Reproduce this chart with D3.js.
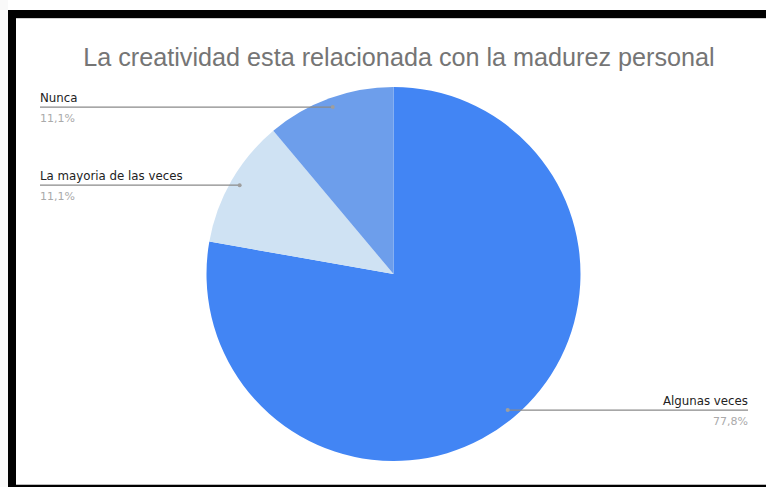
<!DOCTYPE html>
<html>
<head>
<meta charset="utf-8">
<script src="https://cdn.jsdelivr.net/npm/d3@7"></script>
<style>
  body { margin: 0; background: #fff; }
  svg { display: block; font-family: "Liberation Sans", Arial, sans-serif; }
</style>
</head>
<body>
<svg width="766" height="487"></svg>
<script>
// Chart data
const title = "La creatividad esta relacionada con la madurez personal";
const categories = ["Algunas veces", "La mayoria de las veces", "Nunca"];
const values = [7, 1, 1];
const sliceColors = ["#4285f4", "#cfe2f3", "#6d9eeb"];

const svg = d3.select("svg");
const width = 766, height = 487;

// Frame around the screenshot
svg.append("rect").attr("x", 0).attr("y", 0).attr("width", 8).attr("height", height).attr("fill", "#f9f9f9");
svg.append("rect").attr("x", 8).attr("y", 10).attr("width", width - 8).attr("height", 8).attr("fill", "#000");
svg.append("rect").attr("x", 16).attr("y", 18).attr("width", width - 16).attr("height", 1).attr("fill", "#d0d0d0");
svg.append("rect").attr("x", 8).attr("y", 10).attr("width", 8).attr("height", height - 10).attr("fill", "#000");
svg.append("rect").attr("x", 16).attr("y", 484).attr("width", width - 16).attr("height", 1).attr("fill", "#bbb");
svg.append("rect").attr("x", 16).attr("y", 485).attr("width", width - 16).attr("height", 2).attr("fill", "#000");

// Title
svg.append("text")
  .attr("x", 399)
  .attr("y", 66)
  .attr("text-anchor", "middle")
  .style("font-size", "25.2px")
  .style("fill", "#757575")
  .text(title);

const cx = 393.5, cy = 274, r = 187;
const total = d3.sum(values);
const locale = d3.formatLocale({ decimal: ",", thousands: ".", grouping: [3], currency: ["", "€"] });
const pct = locale.format(".1%");

const color = d3.scaleOrdinal().domain(categories).range(sliceColors);

const pie = d3.pie().sort(null).value((d, i) => values[i]);
const arcs = pie(categories);

const arc = d3.arc().innerRadius(0).outerRadius(r);
const anchorArc = d3.arc().innerRadius(r * 0.95).outerRadius(r * 0.95);

const g = svg.append("g").attr("transform", `translate(${cx},${cy})`);

g.selectAll("path.slice")
  .data(arcs)
  .enter()
  .append("path")
  .attr("class", "slice")
  .attr("d", arc)
  .attr("fill", (d) => color(d.data));

// Leader lines and labels
const leftX = 40, rightX = 748;
arcs.forEach((d, i) => {
  const [ax, ay] = anchorArc.centroid(d);
  const px = cx + ax, py = cy + ay;
  const isRight = px > cx;
  const endX = isRight ? rightX : leftX;

  svg.append("line")
    .attr("x1", px).attr("y1", py)
    .attr("x2", endX).attr("y2", py)
    .attr("stroke", "#8a8a8a")
    .attr("stroke-width", 1.2);

  svg.append("circle")
    .attr("cx", px).attr("cy", py)
    .attr("r", 2)
    .attr("fill", "#9e9e9e");

  svg.append("text")
    .attr("x", endX)
    .attr("y", py - 5)
    .attr("text-anchor", isRight ? "end" : "start")
    .style("font-family", "'DejaVu Sans', sans-serif")
    .style("font-size", "11.8px")
    .style("fill", "#222")
    .text(d.data);

  svg.append("text")
    .attr("x", endX)
    .attr("y", py + 15)
    .attr("text-anchor", isRight ? "end" : "start")
    .style("font-family", "'DejaVu Sans', sans-serif")
    .style("font-size", "11px")
    .style("fill", "#aaaaaa")
    .text(pct(values[i] / total));
});
</script>
</body>
</html>
